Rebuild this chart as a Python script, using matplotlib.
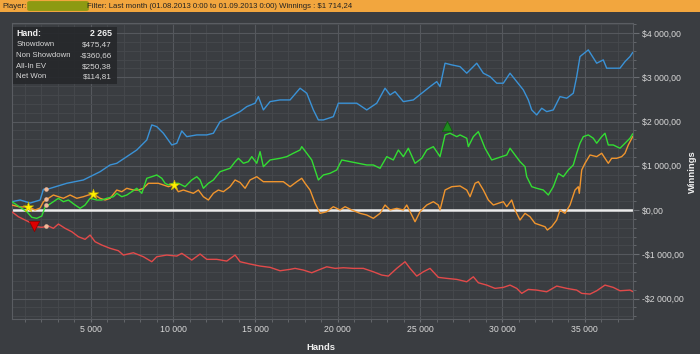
#   Imports    #
import matplotlib
matplotlib.use("Agg")
import matplotlib.pyplot as plt
from matplotlib.patches import Rectangle, FancyBboxPatch
from matplotlib.ticker import MultipleLocator, FuncFormatter


##  Data   ##

#   Showdown winnings (blue)    #
showdown_hands = [206, 710, 1318, 1925, 2125, 2410, 3546, 4554, 5568, 6175, 6582, 7189, 7796, 8404, 8707,
                  9011, 9412, 9922, 10225, 10529, 10832, 11440, 12047, 12448, 12855, 13462, 13869, 14069, 14476,
                  14980, 15180, 15484, 15891, 16498, 17105, 17712, 18119, 18520, 18823, 19127, 19734, 20038,
                  20548, 21155, 21762, 22370, 22873, 23177, 23481, 23985, 24592, 25102, 25606, 26013, 26213,
                  26517, 26924, 27428, 27835, 28442, 28843, 29250, 29656, 30056, 30463, 30870, 31271, 31574,
                  31781, 32084, 32388, 32692, 33092, 33499, 33906, 34306, 34513, 34713, 35217, 35727, 36127,
                  36334, 36734, 37141, 37445, 37748, 37912]
showdown = [188, 226, 158, 226, 468, 475, 604, 679, 866, 1018, 1056, 1206, 1357, 1583, 1923,
            1884, 1735, 1470, 1509, 1787, 1658, 1697, 1697, 1735, 1997, 2110, 2187, 2224, 2337,
            2414, 2563, 2262, 2450, 2488, 2488, 2753, 2640, 2262, 2036, 2036, 2110, 2414,
            2414, 2414, 2262, 2414, 2753, 2601, 2676, 2450, 2488, 2640, 2789, 2902, 2789,
            3318, 3280, 3241, 3092, 3318, 3092, 3015, 2866, 2866, 3092, 2902, 2715, 2488,
            2262, 2149, 2300, 2224, 2262, 2563, 2527, 2640, 3015, 3468, 3619, 3318, 3393,
            3205, 3205, 3205, 3354, 3468, 3558]

#   Non showdown winnings (red)    #
non_showdown_hands = [206, 607, 1014, 1421, 1724, 2028, 2429, 2732, 3036, 3443, 3850, 4250, 4657, 4961, 5264,
                      5671, 6175, 6679, 6983, 7590, 8197, 8707, 9011, 9618, 10225, 10529, 11136, 11640,
                      12047, 12654, 13261, 13765, 14069, 14676, 15283, 15891, 16498, 17105, 17409, 17912,
                      18422, 18823, 19333, 19837, 20341, 20948, 21556, 22163, 22673, 23074, 23584, 24088,
                      24392, 24798, 25199, 25606, 26110, 26620, 27227, 27835, 28236, 28539, 29049, 29553,
                      30056, 30463, 30870, 31174, 31574, 32084, 32692, 33299, 33906, 34513, 34817, 35321,
                      35727, 36231, 36734, 37141, 37748, 37950]
non_showdown = [-38, -152, -226, -301, -378, -391, -362, -414, -317, -414, -491, -604, -663, -566, -717,
                -792, -866, -920, -1018, -966, -1056, -1169, -1056, -1018, -1041, -979, -1131, -995,
                -1115, -1115, -1154, -1018, -1169, -1221, -1267, -1296, -1373, -1341, -1319, -1357,
                -1418, -1357, -1283, -1319, -1305, -1319, -1319, -1396, -1470, -1493, -1319, -1169,
                -1319, -1493, -1396, -1319, -1522, -1545, -1568, -1622, -1509, -1644, -1697, -1771,
                -1749, -1697, -1771, -1884, -1794, -1810, -1848, -1719, -1771, -1810, -1884, -1900,
                -1825, -1697, -1749, -1825, -1810, -1848]

#   All-in EV (orange)    #
allin_hands = [206, 710, 1178, 1621, 1925, 2125, 2429, 2732, 3036, 3340, 3746, 4153, 4554, 4858, 5161,
               5568, 5872, 6175, 6582, 6886, 7189, 7590, 7894, 8197, 8501, 8804, 9108, 9412, 9715, 10019,
               10322, 10626, 10930, 11233, 11537, 11840, 12144, 12448, 12751, 13055, 13462, 13765, 14069,
               14373, 14676, 15083, 15484, 15891, 16297, 16698, 17105, 17512, 17815, 18016, 18319, 18623,
               18927, 19333, 19734, 20141, 20445, 20851, 21356, 21762, 22163, 22570, 22873, 23177, 23584,
               23985, 24191, 24494, 24695, 24998, 25405, 25806, 26110, 26213, 26517, 26924, 27428, 27835,
               28037, 28341, 28539, 28843, 29146, 29450, 29753, 30056, 30263, 30566, 30767, 31070, 31374,
               31678, 31981, 32285, 32589, 32729, 32996, 33299, 33499, 33803, 34107, 34410, 34610, 34671,
               34817, 35017, 35321, 35727, 36031, 36231, 36431, 36637, 36940, 37243, 37445, 37646, 37912]
allin_ev = [113, 68, 75, 0, 45, 188, 265, 339, 301, 265, 339, 265, 301, 339, 362,
            265, 226, 265, 452, 414, 491, 452, 452, 491, 604, 604, 604, 566, 527, 566,
            414, 452, 414, 378, 452, 301, 226, 378, 452, 414, 527, 679, 622,
            491, 679, 753, 640, 640, 640, 640, 527, 640, 717, 604, 452, 152,
            -75, -38, 75, 0, 75, 0, -75, -113, -188, -75, 113, 0, 38,
            0, 113, -113, -265, -38, 113, 188, 113, 0, 452, 527, 543, 452,
            301, 604, 640, 452, 226, 113, 152, 188, 75, 226, 0, -226, -75,
            -152, -301, -339, -378, -452, -378, -226, 0, -75, 113, 452, 527, 378,
            905, 1056, 1244, 1206, 1283, 1169, 1056, 1169, 1169, 1206, 1283, 1470, 1658]

#   Net won (green)    #
net_hands = [206, 510, 814, 1117, 1421, 1724, 2028, 2228, 2429, 2732, 3036, 3340, 3643, 4050, 4354,
             4657, 4961, 5368, 5671, 5975, 6376, 6582, 6886, 7189, 7493, 7796, 8100, 8404, 8707, 9011,
             9315, 9515, 9715, 10019, 10322, 10729, 11136, 11440, 11640, 11840, 12144, 12448, 12855,
             13158, 13462, 13765, 13968, 14272, 14573, 14780, 15083, 15283, 15484, 15891, 16498, 16905,
             17305, 17712, 17815, 18119, 18422, 18622, 18823, 19127, 19533, 19940, 20244, 20748, 21252,
             21762, 22163, 22570, 22977, 23377, 23681, 23985, 24288, 24695, 25102, 25405, 25806, 26213,
             26517, 26820, 27227, 27428, 27835, 27932, 28236, 28539, 28746, 28946, 29353, 29656, 29960,
             30263, 30463, 30767, 31070, 31374, 31477, 31781, 32084, 32485, 32789, 33092, 33396, 33700,
             34003, 34306, 34513, 34713, 34914, 35217, 35521, 35727, 36031, 36231, 36431, 36734, 37141,
             37445, 37748, 37912]
net_won = [188, 113, 38, -38, -165, -188, -136, 75, 113, 188, 265, 188, 226, 113, 38,
           113, 265, 226, 226, 265, 301, 378, 301, 339, 414, 491, 378, 717, 753, 792,
           717, 604, 566, 604, 604, 527, 679, 753, 679, 491, 604, 679, 866,
           905, 943, 1090, 1169, 1056, 1093, 1206, 1056, 1319, 979, 1131, 1169, 1206,
           1283, 1357, 1432, 1283, 1131, 905, 679, 792, 830, 905, 1131, 1093, 1056,
           1018, 1018, 943, 1206, 1131, 1357, 1206, 1396, 1056, 1169, 1357, 1432, 1206,
           1697, 1735, 1658, 1697, 1622, 1432, 1658, 1771, 1583, 1396, 1131, 1169, 1206,
           1244, 1396, 1244, 1093, 979, 753, 527, 491, 452, 339, 527, 830, 753,
           905, 1018, 1283, 1509, 1658, 1697, 1622, 1509, 1658, 1735, 1470, 1470, 1396,
           1509, 1622, 1719]

#   Markers    #
star_hands = [1178, 5161, 10080]
star_values = [75, 362, 570]
hover_hand = 2265
hover_values = [475.47, -360.66, 250.38, 114.81]
red_flag = (1579, -362)
green_flag = (26650, 1900)

#   Tooltip    #
tooltip_rows = [("Showdown", "$475,47"), ("Non Showdown", "-$360,66"), ("All-In EV", "$250,38"), ("Net Won", "$114,81")]
header_text = "Filter: Last month (01.08.2013 0:00 to 01.09.2013 0:00) Winnings : $1 714,24"


##  Style   ##
W, H = 700, 354
BG = "#3a3d41"
GRID_MAJOR = "#55585d"
GRID_MINOR = "#46494d"
TEXT = "#d8d8d8"
BLUE, RED, ORANGE, GREEN = "#3a92d6", "#e24a4a", "#f0952e", "#33dd33"
FONT = "Liberation Sans"


#   Pixel position -> figure fraction   #
def px(x, y):
    return x / W, 1 - y / H


#   Axis formatters   #
def money(v, pos):
    s = "{:,.2f}".format(abs(v)).replace(",", " ").replace(".", ",")
    return ("-$" if v < 0 else "$") + s


def hands_fmt(v, pos):
    return "{:,.0f}".format(v).replace(",", " ")


##  Create the figure   ##
fig = plt.figure(figsize=(W / 100, H / 100), dpi=100, facecolor=BG)

#   Header bar   #
fig.patches.append(Rectangle(px(0, 11.7), 1, 11.7 / H, transform=fig.transFigure, facecolor="#f2a63e", edgecolor="none"))
fig.patches.append(FancyBboxPatch(px(30, 9.5), 56 / W, 7 / H, boxstyle="round,pad=0.004", transform=fig.transFigure,
                                  facecolor="#8d9a12", edgecolor="none"))
fig.text(*px(2, 6), "Player:", fontsize=5.6, color="#222222", family=FONT, va="center")
fig.text(*px(87, 6), header_text, fontsize=5.6, color="#222222", family=FONT, va="center")

#   Axes   #
left, right, top, bottom = 11.7, 633.3, 23.3, 319.3
ax = fig.add_axes([left / W, 1 - bottom / H, (right - left) / W, (bottom - top) / H])
ax.set_facecolor(BG)
ax.set_xlim(200, 37950)
ax.set_ylim(-2470, 4220)

ax.xaxis.set_major_locator(MultipleLocator(5000))
ax.xaxis.set_minor_locator(MultipleLocator(1000))
ax.yaxis.set_major_locator(MultipleLocator(1000))
ax.yaxis.set_minor_locator(MultipleLocator(200))
ax.xaxis.set_major_formatter(FuncFormatter(hands_fmt))
ax.yaxis.set_major_formatter(FuncFormatter(money))
ax.yaxis.tick_right()

ax.grid(which="major", color=GRID_MAJOR, linewidth=0.8)
ax.grid(which="minor", color=GRID_MINOR, linewidth=0.6)
ax.set_axisbelow(True)
for side in ax.spines.values():
    side.set_color("#5a5d62")
    side.set_linewidth(0.8)

ax.tick_params(axis="both", which="both", colors="#6a6d72", labelcolor=TEXT, labelsize=6.3)
ax.tick_params(axis="y", which="major", length=4.5, pad=2)
ax.tick_params(axis="y", which="minor", length=2)
ax.tick_params(axis="x", which="both", length=2, pad=2)
for label in ax.get_xticklabels() + ax.get_yticklabels():
    label.set_family(FONT)

#   Zero line   #
ax.axhline(0, color="#ececec", linewidth=1.8, zorder=2)

#   Series   #
ax.plot(showdown_hands, showdown, color=BLUE, linewidth=1.0, zorder=3)
ax.plot(non_showdown_hands, non_showdown, color=RED, linewidth=1.0, zorder=3)
ax.plot(allin_hands, allin_ev, color=ORANGE, linewidth=1.0, zorder=3)
ax.plot(net_hands, net_won, color=GREEN, linewidth=1.0, zorder=4)

#   Markers   #
ax.scatter(star_hands, star_values, marker="*", s=60, color="#fff000", edgecolors="#c8b400", linewidths=0.4, zorder=5)
ax.scatter([hover_hand] * 4, hover_values, s=5, color="#f0b898", zorder=6)
ax.scatter(*red_flag, marker="v", s=55, color="#dd0000", edgecolors="#880000", linewidths=0.5, zorder=5)
ax.scatter(*green_flag, marker="^", s=55, color="#1f8a1f", edgecolors="#0d5a0d", linewidths=0.5, zorder=5)

#   Axis titles   #
fig.text(*px(321, 347), "Hands", fontsize=6.8, color="#f0f0f0", family=FONT, weight="bold", ha="center", va="center")
fig.text(*px(692, 172), "Winnings", fontsize=6.8, color="#f0f0f0", family=FONT, weight="bold", rotation=90,
         ha="center", va="center")

#   Tooltip box   #
fig.patches.append(Rectangle(px(12.7, 84), 104 / W, 57.3 / H, transform=fig.transFigure,
                             facecolor="#26282b", edgecolor="none", alpha=0.92))
fig.text(*px(16.5, 33.5), "Hand:", fontsize=6.3, color="#f2f2f2", family=FONT, weight="bold", va="center")
fig.text(*px(112, 33.5), "2 265", fontsize=6.3, color="#f2f2f2", family=FONT, weight="bold", va="center", ha="right")
for row, (name, value) in enumerate(tooltip_rows):
    y = 44.5 + row * 10.8
    fig.text(*px(16.5, y), name, fontsize=5.6, color=TEXT, family=FONT, va="center")
    fig.text(*px(112, y), value, fontsize=5.9, color=TEXT, family=FONT, va="center", ha="right")

fig.savefig("out.png", dpi=100, facecolor=BG)
